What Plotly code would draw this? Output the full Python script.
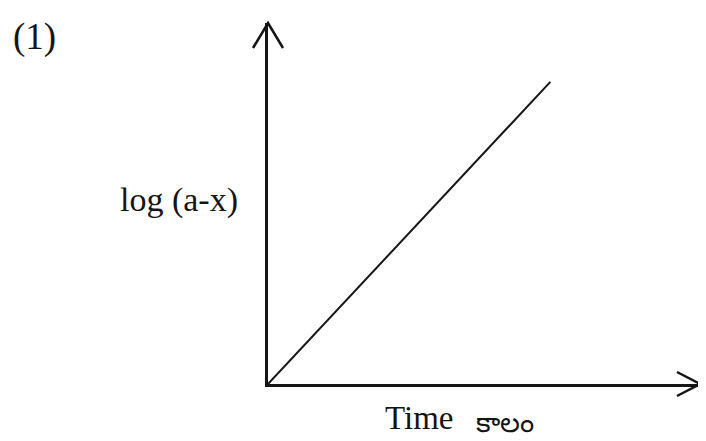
import plotly.graph_objects as go

# first-order plot: log(a-x) against time (as drawn, a straight rising line)
time = [0, 10]
log_a_x = [0, 10]

x_label = "Time"
x_label_te = "కాలం"
y_label = "log (a-x)"
panel = "(1)"

INK = "#151515"
FONT = "Liberation Serif, Times New Roman, serif"

fig = go.Figure()

fig.add_trace(
    go.Scatter(
        x=time,
        y=log_a_x,
        mode="lines",
        line=dict(color=INK, width=2),
        hoverinfo="skip",
        showlegend=False,
    )
)

axis_common = dict(
    showgrid=False,
    zeroline=False,
    showticklabels=False,
    ticks="",
    showline=True,
    linecolor=INK,
    linewidth=2.5,
    fixedrange=True,
)

fig.update_xaxes(range=[0, 15.3], **axis_common)
fig.update_yaxes(range=[0, 11.95], **axis_common)

# open arrowheads at the ends of both axes
arrow = dict(
    type="path",
    xref="paper",
    yref="paper",
    xsizemode="pixel",
    ysizemode="pixel",
    line=dict(color=INK, width=2.5),
)
fig.add_shape(arrow, xanchor=0, yanchor=1, path="M -15,-25 L 0,0 L 15,-25")
fig.add_shape(arrow, xanchor=1, yanchor=0, path="M -23,12 L 0,0 L -23,-12")

fig.add_annotation(
    text=panel, xref="paper", yref="paper", x=-0.54, y=0.961,
    xanchor="center", yanchor="middle", showarrow=False,
    font=dict(family=FONT, size=37, color=INK),
)
fig.add_annotation(
    text=y_label, xref="paper", yref="paper", x=-0.206, y=0.51,
    xanchor="center", yanchor="middle", showarrow=False,
    font=dict(family=FONT, size=34, color=INK),
)
fig.add_annotation(
    text=x_label, xref="paper", yref="paper", x=0.35, y=-0.094,
    xanchor="center", yanchor="middle", showarrow=False,
    font=dict(family=FONT, size=33, color=INK),
)
fig.add_annotation(
    text=x_label_te, xref="paper", yref="paper", x=0.549, y=-0.108,
    xanchor="center", yanchor="middle", showarrow=False,
    font=dict(family=FONT, size=28, color=INK),
)

# the page body adds an 8 px offset, so the figure is 8 px smaller
fig.update_layout(
    width=698,
    height=433,
    margin=dict(l=260, r=6, t=15, b=57),
    plot_bgcolor="white",
    paper_bgcolor="white",
    showlegend=False,
)

fig.write_html("out.html", config={"displayModeBar": False})
